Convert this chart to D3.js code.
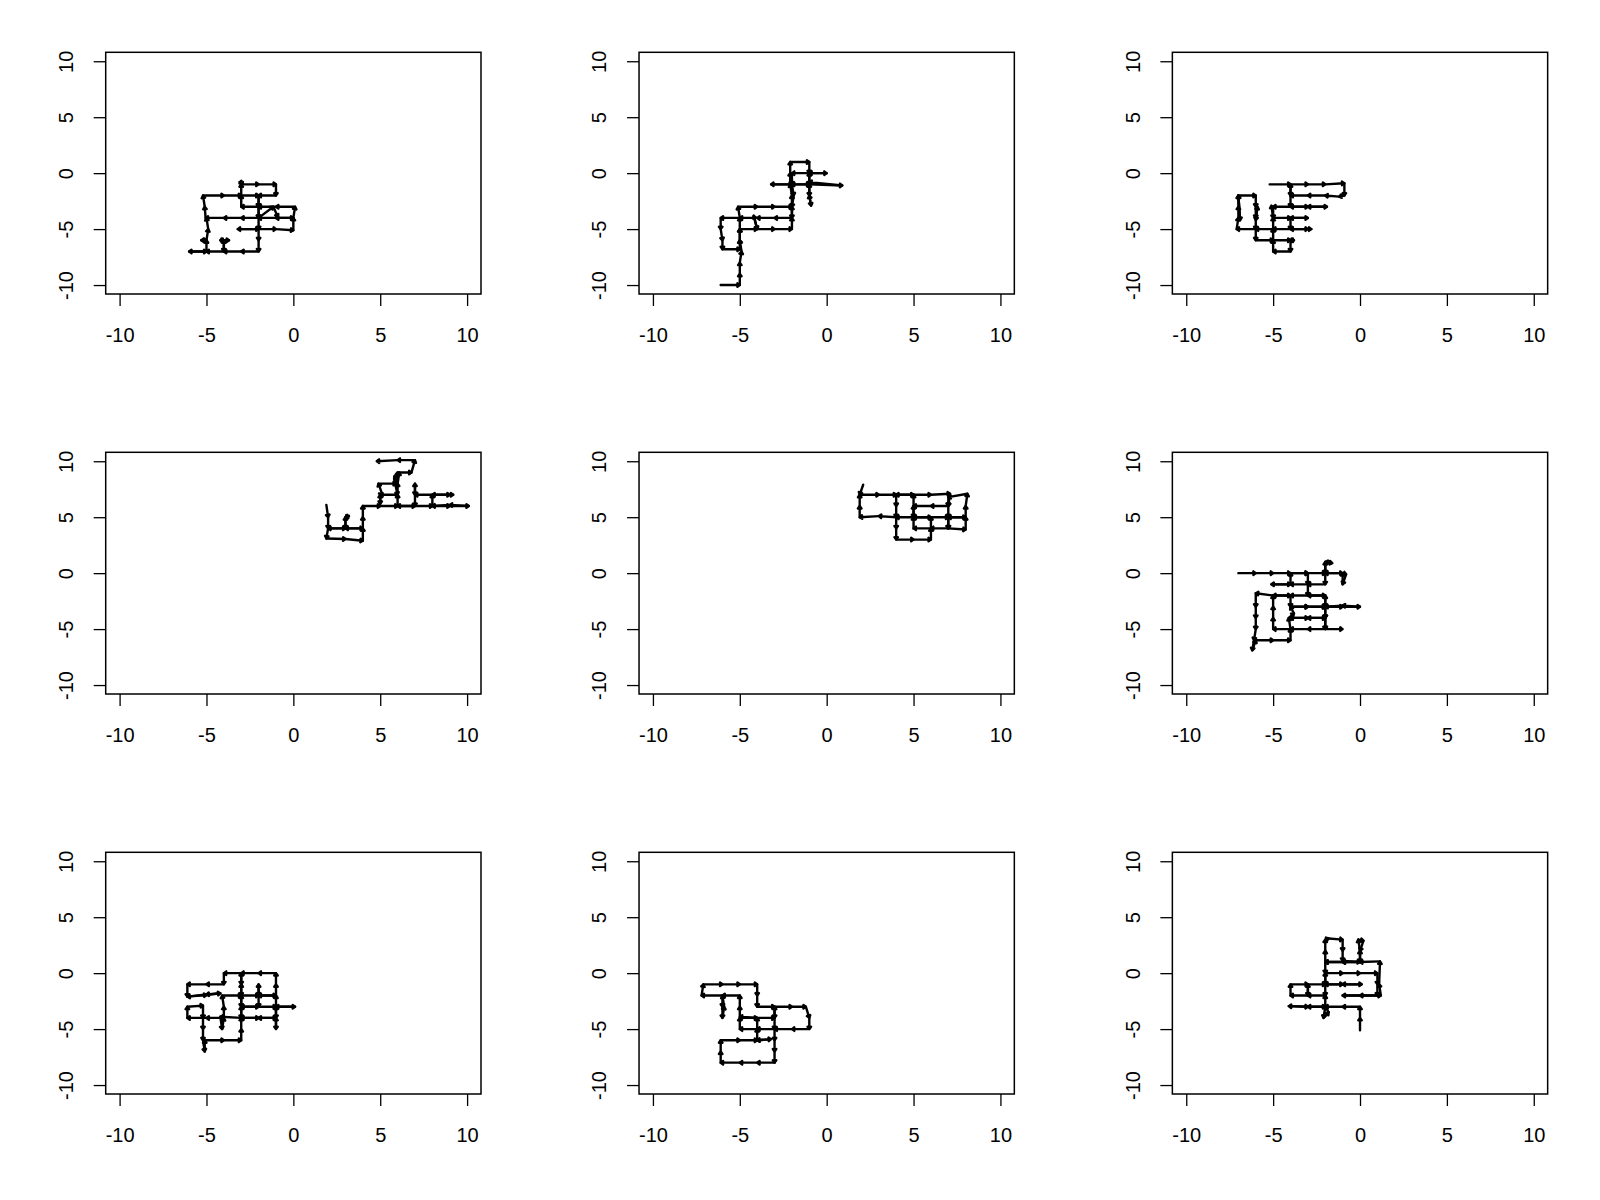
<!DOCTYPE html>
<html>
<head>
<meta charset="utf-8">
<script src="https://cdn.jsdelivr.net/npm/d3@7"></script>
<style>
  body { margin: 0; background: #fff; }
  svg { display: block; }
</style>
</head>
<body>
<svg id="chart" width="1600" height="1200"></svg>
<script>
// Axis ticks and limits (identical in every panel)
const tickValues = [-10, -5, 0, 5, 10];
const axisLimits = [-10.8, 10.8];

// Random-walk paths, one per panel
const walk1 = [[-2,-5],[-3.2,-5],[-2,-5],[-1,-5],[0,-5.1],[0,-4],[0.1,-3],[-1,-3],[-2,-3],[-3,-3],[-3,-2],[-3,-1],[-3,-0.7],[-3,-1],[-2,-1],[-1,-1],[-1,-2],[-2,-2],[-2,-3],[-2,-4],[-1.15,-3],[-0.9,-3.9],[-1,-4],[0,-4],[-1,-4],[-2,-4],[-3,-4],[-4,-4],[-5.05,-4],[-5.1,-3],[-5.2,-2],[-4,-2],[-3,-2],[-2,-2],[-2,-3],[-2,-4],[-2,-5],[-2,-6],[-2,-7],[-3,-7],[-4,-7],[-4,-6],[-3.7,-6],[-4.2,-6],[-4,-6],[-4,-7],[-5,-7],[-6,-7],[-5,-7],[-5,-6],[-5.3,-6],[-5,-6],[-4.9,-5],[-5,-4]];
const walk2 = [[-6.1,-10],[-5,-10],[-5,-9],[-5,-8],[-4.9,-7],[-5,-6],[-5,-5],[-5,-4],[-5.1,-3],[-4,-3],[-3,-3],[-2,-3],[-2,-4],[-3,-4],[-4,-4],[-5,-4],[-6.1,-4],[-6.1,-5],[-6,-6],[-6,-6.8],[-5,-6.8],[-5,-6],[-5,-5],[-4,-5],[-4.2,-3.8],[-4,-5],[-3,-5],[-2,-5],[-2,-4],[-2,-3],[-2,-2],[-2.1,-1],[-2.1,0],[-2.1,1],[-1,1],[-1,0],[-1,-1],[-1,-2],[-0.9,-2.9],[-1,-2],[-1,-1],[-2,-1],[-3.2,-1],[-2,-1],[-1,-1],[0.9,-1.1],[-1,-0.8],[-1,0],[0,0],[-1,0],[-2,0],[-2,-1],[-1.9,-2],[-2,-3]];
const walk3 = [[-5.2,-1],[-4,-1],[-3,-1],[-2,-1],[-0.9,-0.9],[-0.9,-2],[-1.2,-2.1],[-2,-2],[-3,-2],[-4,-2],[-4,-1],[-4,-2],[-4,-3],[-3,-3],[-1.9,-3],[-3,-3],[-4,-3],[-5,-3],[-5,-4],[-4,-4],[-3,-4],[-4,-4],[-4,-5],[-3,-5],[-2.8,-5],[-4,-5],[-5,-5],[-6,-5],[-7.1,-5],[-7,-4],[-7,-3],[-7,-2],[-6.9,-4.2],[-7,-2],[-6,-2],[-6,-3],[-6,-4],[-5.9,-3],[-6,-4.2],[-6,-5],[-6,-6],[-5,-6],[-4,-6],[-3.8,-6],[-4,-6],[-4,-7],[-5,-7],[-5,-6],[-5,-5],[-5,-4],[-5.1,-2.9]];
const walk4 = [[1.9,6.1],[2,5],[2,4],[1.9,3.1],[3,3.05],[4,2.9],[4,4],[3,4],[3,5],[3.2,5.1],[3,5],[3,4],[2,4],[3,4],[4,4],[4,5],[4,6],[5,6],[6,6],[7,6],[8,6],[9,6],[10.1,6],[9,6.1],[8,6],[8,7],[9,7],[9.2,7],[8,7],[7,7],[7,8],[7,7],[7,6],[6,6],[6,7],[6,8],[6.1,9],[5.8,8.4],[6,7],[5,7],[5,6.2],[5,7],[5.1,7.1],[4.9,8],[5.9,8],[6,9],[6.8,9],[7,10.1],[6,10.1],[4.8,10]];
const walk5 = [[2.1,7.9],[1.9,7],[3,7],[4,7],[5,7],[6,7],[7.1,7.1],[7,6],[6,6],[5,6],[5,5],[6,5],[7,5],[8,5],[8,6],[8.1,7.1],[7,6.8],[7,6],[7,5],[7,4],[8,3.9],[8,5],[7,5],[7,4],[6,4],[5,4],[5,5],[5,6],[5,7],[4,7],[4,6],[4,5],[4,4],[4,3],[5,3],[6,3],[6,4],[6,5],[5,5],[4,5],[3,5.1],[1.9,5],[1.9,6],[1.9,7]];
const walk6 = [[-7,0],[-6,0],[-5,0],[-4,0],[-3,0],[-2,0],[-1,0],[-0.8,-0.1],[-1,-1],[-1,0],[-2,0],[-2,1],[-1.6,0.9],[-2,1],[-2,0],[-2,-1],[-3,-1],[-4,-1],[-5.1,-1],[-4,-1],[-4,0],[-3,0],[-3,-1],[-3,-2],[-4,-2],[-5,-2],[-6,-1.8],[-6,-3],[-6,-4],[-6,-5],[-6.1,-6],[-6.2,-6.9],[-6,-6],[-5,-6],[-4,-6],[-4,-5],[-4.1,-4],[-3.8,-3.6],[-4,-3],[-3,-3],[-2,-3],[-1,-3],[0,-3],[-1,-2.9],[-2,-3],[-2,-2],[-3,-2],[-2,-2],[-2,-3],[-2,-4],[-3,-4],[-4,-4],[-3,-4],[-2,-4],[-2,-5],[-3,-5],[-4,-5],[-5,-5],[-5,-4],[-5,-3],[-5,-2],[-4,-2],[-4,-3],[-3,-3],[-2,-3],[-2,-4],[-2,-5],[-1,-5]];
const walk7 = [[-4.2,-4],[-5,-4],[-6.1,-4],[-6.1,-3],[-5.2,-2.9],[-5.2,-4],[-5.2,-5],[-5.2,-6],[-5.1,-7],[-5.1,-6],[-4,-6],[-3,-6],[-3,-5],[-3,-4],[-2,-4],[-1,-4],[-2,-4],[-3,-4],[-4.2,-3.9],[-4.1,-5],[-4,-4],[-4,-3],[-4.1,-2],[-3,-2],[-2,-2],[-1,-2],[-2,-2],[-2,-1],[-2,-2],[-2,-3],[-3,-3],[-2,-3],[-1,-3],[0.1,-3],[-1,-3],[-1,-4],[-1,-5],[-1,-4],[-1,-3],[-1,-2],[-1,-1],[-1,0],[-2,0],[-3,0],[-3,-1],[-3,-2],[-3,-3],[-3,-4],[-3,-3],[-3,-2],[-3,-1],[-3,0],[-4,0],[-4,-1],[-5,-1],[-6.1,-1],[-6.1,-2.1],[-5,-1.95],[-4.2,-1.8],[-5,-1.9],[-6.1,-2.1]];
const walk8 = [[-7.1,-1],[-6,-1],[-5,-1],[-4,-1],[-4,-2],[-4,-3],[-3,-3],[-2,-3],[-1.2,-3],[-1,-4],[-1,-5],[-2,-5],[-3,-5],[-4,-5],[-5,-5],[-5,-4],[-4,-4],[-3,-4],[-3,-3],[-3,-4],[-3,-5],[-3,-6],[-3,-7],[-3,-8],[-4,-8],[-5,-8],[-6.1,-8],[-6.1,-7],[-6.1,-6],[-5,-6],[-4,-6],[-3.2,-5.9],[-4,-6],[-4,-5],[-4,-4],[-5,-3.9],[-5,-3],[-5,-2],[-6,-2],[-6,-3],[-6,-4],[-5.9,-3],[-6,-2],[-7.2,-2],[-7.1,-1]];
const walk9 = [[0,-5.1],[0,-4],[0,-3],[-1,-3],[-2,-3],[-3,-3],[-4.1,-2.95],[-3,-3],[-2,-3],[-2.1,-4],[-1.8,-3.5],[-2,-3],[-2,-2],[-3,-2],[-4,-2],[-4,-1],[-3,-1],[-3,-2],[-3,-1],[-2,-1],[-1,-1],[0.1,-1],[-1,-1],[-2,-1],[-2,0],[-1,0],[0,0],[1,0],[1,-1],[1,-2],[0,-2],[-1,-2],[1.2,-2],[1.1,-1],[1.15,1.05],[0,1],[-1,1],[-2,1],[-2,2],[-2,3],[-1.8,3.1],[-1,3],[-1,2],[-1,1.1],[0,1],[0,2],[-0.1,3],[0.2,2.9],[0,2],[0,1],[-1,1],[-2,1],[-2,0],[-2,-1],[-2,-2]];

const walks = [walk1, walk2, walk3, walk4, walk5, walk6, walk7, walk8, walk9];

const svg = d3.select("#chart");
svg.append("rect").attr("width", 1600).attr("height", 1200).attr("fill", "#fff");

const FONT = "'Liberation Sans', Arial, Helvetica, sans-serif";
const HEAD = 3, ANG = Math.PI / 5;

walks.forEach((walk, i) => {
  const c = i % 3, r = Math.floor(i / 3);
  const L = 105.7 + c * 533.33, T = 52.3 + r * 400, W = 375.3, H = 241.7;
  const x = d3.scaleLinear().domain(axisLimits).range([L, L + W]);
  const y = d3.scaleLinear().domain(axisLimits).range([T + H, T]);

  const g = svg.append("g");

  // segments with small arrowheads
  const segs = d3.pairs(walk);
  g.selectAll("path.seg").data(segs).join("path")
    .attr("class", "seg")
    .attr("fill", "none")
    .attr("stroke", "#000")
    .attr("stroke-width", 2.4)
    .attr("stroke-linejoin", "round")
    .attr("stroke-linecap", "round")
    .attr("d", ([p, q]) => {
      const x0 = x(p[0]), y0 = y(p[1]), x1 = x(q[0]), y1 = y(q[1]);
      const a = Math.atan2(y1 - y0, x1 - x0);
      const hx1 = x1 - HEAD * Math.cos(a - ANG), hy1 = y1 - HEAD * Math.sin(a - ANG);
      const hx2 = x1 - HEAD * Math.cos(a + ANG), hy2 = y1 - HEAD * Math.sin(a + ANG);
      return `M${x0},${y0}L${x1},${y1}M${hx1},${hy1}L${x1},${y1}L${hx2},${hy2}`;
    });

  // box
  g.append("rect").attr("x", L).attr("y", T).attr("width", W).attr("height", H)
    .attr("fill", "none").attr("stroke", "#000").attr("stroke-width", 1.5);

  // x axis
  const gx = g.append("g").attr("transform", `translate(0,${T + H})`)
    .call(d3.axisBottom(x).tickValues(tickValues).tickSize(12).tickSizeOuter(0).tickFormat(d => String(d)));
  gx.select(".domain").remove();
  gx.selectAll("line").attr("stroke", "#000").attr("stroke-width", 1.3);
  gx.selectAll("text").attr("y", 47.7).attr("dy", null)
    .attr("font-size", 20).attr("font-family", FONT).attr("fill", "#000");

  // y axis
  const gy = g.append("g").attr("transform", `translate(${L},0)`)
    .call(d3.axisLeft(y).tickValues(tickValues).tickSize(12).tickSizeOuter(0).tickFormat(d => String(d)));
  gy.select(".domain").remove();
  gy.selectAll("line").attr("stroke", "#000").attr("stroke-width", 1.3);
  gy.selectAll("text").attr("x", null).attr("dy", null)
    .attr("text-anchor", "middle")
    .attr("transform", "translate(-32.7,0) rotate(-90)")
    .attr("font-size", 20).attr("font-family", FONT).attr("fill", "#000");
});
</script>
</body>
</html>
